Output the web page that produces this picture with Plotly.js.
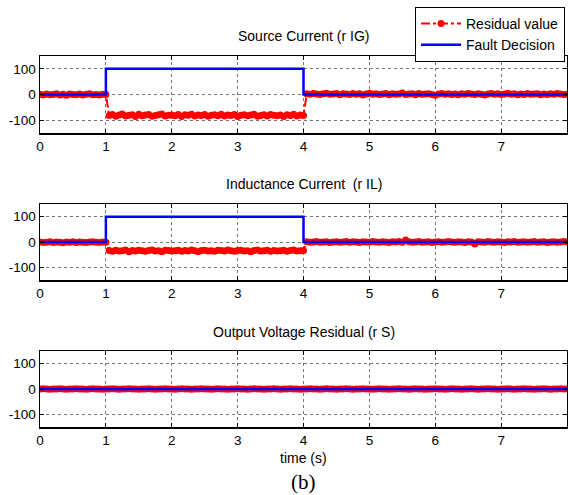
<!DOCTYPE html>
<html>
<head>
<meta charset="utf-8">
<script src="https://cdn.plot.ly/plotly-3.0.1.min.js"></script>
<style>
  html, body { margin: 0; padding: 0; background: #fff; }
  #chart { width: 568px; height: 495px; }
</style>
</head>
<body>
<div id="chart"></div>
<script>
// Sampling of the residual signals (seconds)
const sampleStep = 0.05;

// Source current residual r_IG: before fault (0–1 s), during fault (1.05–4 s), after (4.05–8 s)
const igBefore = [1, -2, 2, -1, 0, 3, -2, 1, -3, 2,
  0, -1, 2, -2, 1, 3, -1, 0, -2, 1,
  0];
const igFault = [-82, -78, -85, -80, -76, -84, -81, -79, -86, -77,
  -83, -80, -78, -85, -82, -79, -76, -84, -81, -80,
  -83, -78, -86, -79, -81, -77, -84, -80, -82, -78,
  -85, -81, -79, -83, -77, -84, -80, -82, -78, -86,
  -81, -79, -83, -80, -77, -85, -82, -79, -84, -78,
  -81, -83, -80, -86, -79, -82, -77, -84, -80, -82];
const igAfter = [3, 1, 4, 2, 0, 3, 5, 1, 2, 4,
  -1, 3, 2, 0, 4, 1, 3, -2, 2, 5,
  1, 3, 0, 2, 4, -1, 3, 1, 2, 6,
  0, 2, 3, -1, 4, 1, 2, 3, 0, -3,
  2, 4, 1, 3, 0, 2, -1, 3, 1, 4,
  2, 0, 3, 1, -2, 2, 4, 1, 3, 0,
  2, 5, 1, 3, -1, 2, 0, 4, 1, 2,
  3, -1, 2, 0, 3, 1, 4, 2, 0, 1];

// Inductance current residual r_IL
const ilBefore = [0, -2, -1, 1, -2, 0, -1, -3, 0, -1,
  1, -2, 0, -1, -2, 0, 1, -1, -2, 0,
  -1];
const ilFault = [-34, -37, -33, -36, -35, -32, -38, -34, -36, -33,
  -35, -37, -34, -32, -36, -35, -38, -33, -34, -36,
  -35, -33, -37, -34, -36, -32, -35, -38, -34, -33,
  -36, -35, -37, -33, -34, -36, -32, -35, -37, -34,
  -33, -36, -35, -38, -34, -32, -36, -35, -33, -37,
  -34, -36, -35, -33, -37, -34, -32, -36, -35, -34];
const ilAfter = [1, -1, 0, 2, -1, 0, 1, -2, 0, 1,
  -1, 0, 2, -1, 1, 0, -2, 1, 0, -1,
  2, 0, -1, 1, 0, -2, 1, 0, 2, -1,
  8, 1, -1, 0, 2, -1, 0, 1, -2, 0,
  1, -1, 0, 2, 0, -1, 1, 0, -2, 1,
  0, -8, 1, 0, -1, 2, 0, -1, 1, 0,
  -2, 1, 0, 2, -1, 0, 1, -1, 0, 2,
  -1, 0, 1, -2, 0, 1, -1, 0, 2, 0];

// Output voltage residual r_S
const sBefore = [0, 1, 0, -1, 0, 0, 1, 0, -1, 0,
  0, 1, 0, 0, -1, 0, 1, 0, 0, -1,
  0];
const sFault = [0, 1, 0, -1, 0, 0, 1, 0, 0, -1,
  0, 0, 1, 0, -1, 0, 0, 1, 0, 0,
  -1, 0, 1, 0, 0, -1, 0, 0, 1, 0,
  0, -1, 0, 1, 0, 0, -1, 0, 0, 1,
  0, 0, -1, 0, 1, 0, 0, -1, 0, 0,
  1, 0, -1, 0, 0, 1, 0, 0, -1, 0];
const sAfter = [0, 1, 0, 0, -1, 0, 1, 0, 0, -1,
  0, 0, 1, 0, -1, 0, 0, 1, 0, 0,
  -1, 0, 1, 0, 0, -1, 0, 0, 1, 0,
  0, -1, 0, 1, 0, 0, -1, 0, 0, 1,
  0, 0, -1, 0, 1, 0, 0, -1, 0, 0,
  1, 0, -1, 0, 0, 1, 0, 0, -1, 0,
  0, 1, 0, -1, 0, 0, 1, 0, 0, -1,
  0, 0, 1, 0, -1, 0, 0, 1, 0, 0];

// Fault decision flags (step signals)
const decisionTime = [0, 1, 1, 4, 4, 8];
const decisionIG = [0, 0, 100, 100, 0, 0];
const decisionIL = [0, 0, 100, 100, 0, 0];
const decisionS = [0, 0, 0, 0, 0, 0];

// Labels
const panelTitles = ['Source Current (r IG)', 'Inductance Current  (r IL)', 'Output Voltage Residual (r S)'];
const xTicks = [0, 1, 2, 3, 4, 5, 6, 7];
const yTickVals = [-100, 0, 100];
const yTickText = ['-100', '0', '100'];

const residualIG = igBefore.concat(igFault, igAfter);
const residualIL = ilBefore.concat(ilFault, ilAfter);
const residualS = sBefore.concat(sFault, sAfter);

const RED = '#ff0000';
const BLUE = '#0000ff';
const FONT = 'Liberation Sans, Arial, sans-serif';

function residualTrace(y, axisIdx, showLegend) {
  const suffix = axisIdx === 1 ? '' : String(axisIdx);
  return {
    type: 'scatter', mode: 'lines+markers',
    x0: 0, dx: sampleStep, y: y,
    xaxis: 'x' + suffix, yaxis: 'y' + suffix,
    name: 'Residual value', showlegend: showLegend, legendgroup: 'res',
    line: { color: RED, width: 2, dash: 'dashdot' },
    marker: { color: RED, size: 7, symbol: 'circle' }
  };
}
function decisionTrace(y, axisIdx, showLegend) {
  const suffix = axisIdx === 1 ? '' : String(axisIdx);
  return {
    type: 'scatter', mode: 'lines',
    x: decisionTime, y: y,
    xaxis: 'x' + suffix, yaxis: 'y' + suffix,
    name: 'Fault Decision', showlegend: showLegend, legendgroup: 'dec',
    line: { color: BLUE, width: 2.5 }
  };
}

const data = [
  residualTrace(residualIG, 1, true), decisionTrace(decisionIG, 1, true),
  residualTrace(residualIL, 2, false), decisionTrace(decisionIL, 2, false),
  residualTrace(residualS, 3, false), decisionTrace(decisionS, 3, false)
];

const TICK_FONT = { family: FONT, size: 13.5, color: '#000' };

function xAxis(anchor) {
  return {
    anchor: anchor, domain: [0, 1], range: [0, 8],
    tickvals: xTicks, ticks: 'inside', ticklen: 4, tickwidth: 1, tickcolor: '#000',
    showline: true, linecolor: '#000', linewidth: 1.5, mirror: 'allticks',
    showgrid: true, gridcolor: '#777', griddash: 'dot', gridwidth: 1,
    zeroline: false, tickfont: TICK_FONT
  };
}
function yAxis(anchor, domain) {
  return {
    anchor: anchor, domain: domain, range: [-150, 150],
    tickvals: yTickVals, ticktext: yTickText,
    ticks: 'inside', ticklen: 4, tickwidth: 1, tickcolor: '#000',
    showline: true, linecolor: '#000', linewidth: 1.5, mirror: 'allticks',
    showgrid: true, gridcolor: '#777', griddash: 'dot', gridwidth: 1,
    zeroline: false, tickfont: TICK_FONT
  };
}

const H = 495;
const py = v => (H - v) / H;

const layout = {
  width: 568, height: 495,
  margin: { l: 40, r: 1, t: 0, b: 0 },
  paper_bgcolor: '#fff', plot_bgcolor: '#fff',
  font: { family: FONT, size: 14, color: '#000' },
  xaxis: xAxis('y'), yaxis: yAxis('x', [py(133), py(56)]),
  xaxis2: xAxis('y2'), yaxis2: yAxis('x2', [py(280), py(204)]),
  xaxis3: xAxis('y3'), yaxis3: yAxis('x3', [py(427), py(351)]),
  showlegend: true,
  legend: {
    x: (415 - 40) / 527, y: py(7), xanchor: 'left', yanchor: 'top',
    bgcolor: '#fff', bordercolor: '#000', borderwidth: 1,
    font: { family: FONT, size: 14, color: '#000' },
    tracegroupgap: 0, itemwidth: 40
  },
  annotations: [
    { text: panelTitles[0], xref: 'paper', yref: 'paper', x: 0.5, y: py(36), showarrow: false,
      xanchor: 'center', yanchor: 'middle', font: { family: FONT, size: 14 } },
    { text: panelTitles[1], xref: 'paper', yref: 'paper', x: 0.5, y: py(184), showarrow: false,
      xanchor: 'center', yanchor: 'middle', font: { family: FONT, size: 14 } },
    { text: panelTitles[2], xref: 'paper', yref: 'paper', x: 0.5, y: py(332), showarrow: false,
      xanchor: 'center', yanchor: 'middle', font: { family: FONT, size: 14 } },
    { text: 'time (s)', xref: 'paper', yref: 'paper', x: 0.5, y: py(458), showarrow: false,
      xanchor: 'center', yanchor: 'middle', font: { family: FONT, size: 14 } },
    { text: '(b)', xref: 'paper', yref: 'paper', x: 0.5, y: py(482), showarrow: false,
      xanchor: 'center', yanchor: 'middle', font: { family: 'Liberation Serif, Times New Roman, serif', size: 21 } }
  ]
};

Plotly.newPlot('chart', data, layout, { staticPlot: true, displayModeBar: false });
</script>
</body>
</html>
